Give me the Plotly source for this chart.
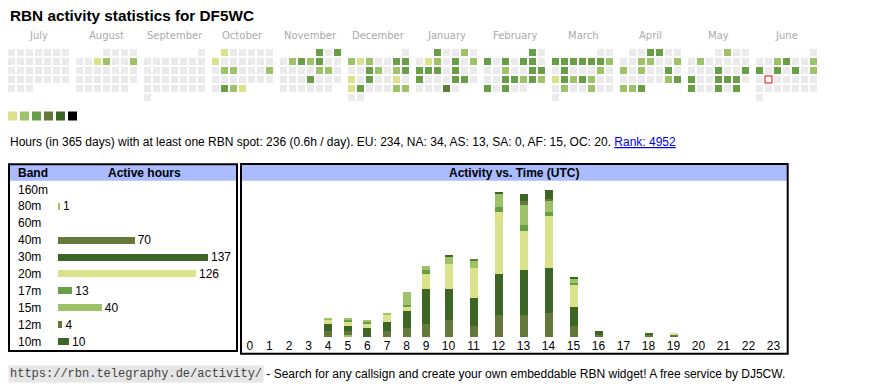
import datetime as dt
import plotly.graph_objects as go

# ---------------- data ----------------
title_text = "RBN activity statistics for DF5WC"
month_names = ["July", "August", "September", "October", "November", "December",
               "January", "February", "March", "April", "May", "June"]
first_day = "2024-07-01"
n_days = 365
today = "2025-06-17"

active_dates = [
    "2024-08-07", "2024-08-08", "2024-08-11",
    "2024-10-01", "2024-10-07", "2024-10-15", "2024-10-16", "2024-10-20", "2024-10-29", "2024-10-30", "2024-10-31",
    "2024-11-01", "2024-11-03", "2024-11-05", "2024-11-06", "2024-11-07", "2024-11-08", "2024-11-15", "2024-11-16", "2024-11-21",
    "2024-12-02", "2024-12-03", "2024-12-04", "2024-12-07", "2024-12-08", "2024-12-11", "2024-12-12", "2024-12-14", "2024-12-15",
    "2024-12-16", "2024-12-18", "2024-12-21", "2024-12-23", "2024-12-24", "2024-12-28", "2024-12-29",
    "2025-01-01", "2025-01-04", "2025-01-07", "2025-01-08", "2025-01-10", "2025-01-12", "2025-01-13", "2025-01-14", "2025-01-15",
    "2025-01-17", "2025-01-20", "2025-01-24", "2025-01-25", "2025-01-30",
    "2025-02-01", "2025-02-03", "2025-02-05", "2025-02-07", "2025-02-08", "2025-02-12", "2025-02-15", "2025-02-16", "2025-02-19",
    "2025-02-20", "2025-02-21", "2025-02-22", "2025-02-23", "2025-02-24", "2025-02-26",
    "2025-03-03", "2025-03-04", "2025-03-05", "2025-03-06", "2025-03-07", "2025-03-08", "2025-03-09", "2025-03-11", "2025-03-15",
    "2025-03-17", "2025-03-18", "2025-03-19", "2025-03-20", "2025-03-21", "2025-03-25", "2025-03-28",
    "2025-04-03", "2025-04-04", "2025-04-09", "2025-04-10", "2025-04-13", "2025-04-14", "2025-04-16", "2025-04-19", "2025-04-26",
    "2025-04-27", "2025-04-28", "2025-04-29", "2025-04-30",
    "2025-05-02", "2025-05-06", "2025-05-15", "2025-05-18", "2025-05-19", "2025-05-22", "2025-05-23", "2025-05-24", "2025-05-26",
    "2025-05-29", "2025-05-31",
    "2025-06-04", "2025-06-05", "2025-06-08", "2025-06-09", "2025-06-11", "2025-06-13", "2025-06-15",
]
active_levels = [
    1, 2, 2,
    1, 1, 2, 2, 2, 3, 2, 1,
    3, 3, 2, 3, 2, 3, 2, 2, 3,
    2, 1, 2, 3, 3, 3, 2, 2, 3,
    1, 3, 1, 1, 3, 2, 2,
    3, 2, 1, 2, 3, 2, 3, 3, 3,
    3, 3, 3, 3, 4,
    3, 3, 3, 3, 3, 2, 3, 3, 3,
    3, 2, 3, 2, 3, 3,
    3, 3, 3, 3, 3, 3, 2, 3, 2,
    1, 3, 2, 3, 2, 2, 2,
    3, 3, 2, 2, 2, 2, 2, 3, 2,
    3, 2, 2, 3,
    2, 2, 3, 3, 3, 3, 3, 3, 3,
    3, 3,
    2, 3, 2, 3, 3, 3, 2,
]
level_colors = ["#ebebeb", "#dae38b", "#9ec268", "#689f46", "#64783a", "#3c6526", "#000000"]
legend_levels = [1, 2, 3, 4, 5, 6]

stats_text = ("Hours (in 365 days) with at least one RBN spot: 236 (0.6h / day). "
              "EU: 234, NA: 34, AS: 13, SA: 0, AF: 15, OC: 20.")
rank_text = "Rank: 4952"
footer_url = "https://rbn.telegraphy.de/activity/"
footer_text = " - Search for any callsign and create your own embeddable RBN widget! A free service by DJ5CW."

bands = ["160m", "80m", "60m", "40m", "30m", "20m", "17m", "15m", "12m", "10m"]
band_hours = [0, 1, 0, 70, 137, 126, 13, 40, 4, 10]
band_colors = ["#dae38b", "#9ec268", "#689f46", "#64783a", "#3c6526",
               "#dae38b", "#689f46", "#9ec268", "#64783a", "#3c6526"]

hour_labels = ["0", "1", "2", "3", "4", "5", "6", "7", "8", "9", "10", "11",
               "12", "13", "14", "15", "16", "17", "18", "19", "20", "21", "22", "23"]
act_160m = [0, 0, 0, 0, 0, 0, 0, 0, 0, 0, 0, 0, 0, 0, 0, 0, 0, 0, 0, 0, 0, 0, 0, 0]
act_80m = [0, 0, 0, 0, 0, 1, 0, 0, 0, 0, 0, 0, 0, 0, 0, 0, 0, 0, 0, 0, 0, 0, 0, 0]
act_60m = [0, 0, 0, 0, 0, 0, 0, 0, 0, 0, 0, 0, 0, 0, 0, 0, 0, 0, 0, 0, 0, 0, 0, 0]
act_40m = [0, 0, 0, 0, 3, 2, 0, 3, 4, 6, 8, 5, 10, 10, 11, 5, 1, 0, 1, 1, 0, 0, 0, 0]
act_30m = [0, 0, 0, 0, 3, 2, 4, 4, 8, 16, 14, 13, 19, 21, 21, 9, 2, 0, 1, 0, 0, 0, 0, 0]
act_20m = [0, 0, 0, 0, 2, 2, 2, 3, 2, 7, 12, 14, 29, 18, 24, 10, 0, 0, 0, 1, 0, 0, 0, 0]
act_17m = [0, 0, 0, 0, 0, 1, 1, 0, 1, 2, 0, 0, 2, 3, 2, 1, 0, 0, 0, 0, 0, 0, 0, 0]
act_15m = [0, 0, 0, 0, 1, 1, 1, 1, 6, 2, 3, 3, 6, 9, 5, 2, 0, 0, 0, 0, 0, 0, 0, 0]
act_12m = [0, 0, 0, 0, 0, 0, 0, 0, 0, 0, 0, 1, 0, 2, 1, 0, 0, 0, 0, 0, 0, 0, 0, 0]
act_10m = [0, 0, 0, 0, 0, 0, 0, 0, 0, 0, 1, 0, 1, 3, 4, 1, 0, 0, 0, 0, 0, 0, 0, 0]
activity = [act_160m, act_80m, act_60m, act_40m, act_30m, act_20m, act_17m, act_15m, act_12m, act_10m]

# ---------------- style / layout constants ----------------
W, H = 870, 390
FONT = "Arial, Liberation Sans, sans-serif"
CAL_FONT = "DejaVu Sans, Verdana, sans-serif"
MONO = "Liberation Mono, Courier New, monospace"
CAL_X0, CAL_Y0, CELL, CELL_SZ, BLOCK = 8, 49, 9, 7, 68
HEAD_BG = "#aabbff"

# calendar cell positions derived from the dates
d0 = dt.date.fromisoformat(first_day)
level_by_date = dict(zip(active_dates, active_levels))


def cell_pos(d):
    m = (d.year - d0.year) * 12 + d.month - d0.month
    off = d.replace(day=1).weekday()
    row = (d.day - 1 + off) // 7
    return (CAL_X0 + m * BLOCK + d.weekday() * CELL + CELL_SZ / 2,
            CAL_Y0 + row * CELL + CELL_SZ / 2)


cx, cy, cc = [], [], []
for i in range(n_days):
    d = d0 + dt.timedelta(days=i)
    x, y = cell_pos(d)
    cx.append(x)
    cy.append(y)
    cc.append(level_colors[level_by_date.get(d.isoformat(), 0)])
tx, ty = cell_pos(dt.date.fromisoformat(today))

fig = go.Figure()
fig.add_trace(go.Scatter(
    x=cx, y=cy, mode="markers", xaxis="x", yaxis="y", cliponaxis=False, hoverinfo="skip",
    marker=dict(symbol="square", size=CELL_SZ, color=cc, line=dict(width=0))))
fig.add_trace(go.Scatter(
    x=[tx], y=[ty], mode="markers", xaxis="x", yaxis="y", cliponaxis=False, hoverinfo="skip",
    marker=dict(symbol="square", size=CELL_SZ, color="white", line=dict(width=1, color="#ee0000"))))
# colour legend
fig.add_trace(go.Scatter(
    x=[CAL_X0 + 12 * k + 4.5 for k in range(len(legend_levels))], y=[116] * len(legend_levels),
    mode="markers", xaxis="x", yaxis="y", cliponaxis=False, hoverinfo="skip",
    marker=dict(symbol="square", size=9, color=[level_colors[l] for l in legend_levels], line=dict(width=0))))

# band bars
BAND_X0, BAND_X1, BAND_PX = 58, 236, 1.095
fig.add_trace(go.Bar(
    x=band_hours, y=bands, orientation="h", xaxis="x2", yaxis="y2", width=7 / 17,
    marker=dict(color=band_colors, line=dict(width=0)),
    text=[str(v) if v else "" for v in band_hours], textposition="outside",
    constraintext="none", cliponaxis=False, hoverinfo="skip",
    textfont=dict(size=12, color="black", family=FONT)))

# activity vs time: column widths derived from label lengths (like an HTML table)
col_w = [14.2 + 5.4 * len(h) for h in hour_labels]
centers, acc = [], 0.0
for w in col_w:
    centers.append(acc + w / 2)
    acc += w
ACT_X0, ACT_BASE, ACT_TOP, ACT_PX = 240, 337, 181, 2.16
for b, vals, col in zip(bands, activity, band_colors):
    fig.add_trace(go.Bar(
        x=centers, y=vals, name=b, xaxis="x3", yaxis="y3", width=8,
        marker=dict(color=col, line=dict(width=0)), hoverinfo="skip"))

shapes = [
    dict(type="rect", xref="x", yref="y", x0=9, y0=164.3, x1=237, y1=180.7,
         fillcolor=HEAD_BG, line=dict(width=0), layer="below"),
    dict(type="rect", xref="x", yref="y", x0=241, y0=164, x1=787.7, y1=180.7,
         fillcolor=HEAD_BG, line=dict(width=0), layer="below"),
    dict(type="rect", xref="x", yref="y", x0=9, y0=164.3, x1=237, y1=351,
         line=dict(width=2, color="black"), layer="above"),
    dict(type="rect", xref="x", yref="y", x0=241, y0=164, x1=787.7, y1=353.8,
         line=dict(width=2, color="black"), layer="above"),
]

ann = []
ann.append(dict(x=8, y=15.5, text="<b>" + title_text + "</b>", xanchor="left", yanchor="middle",
                font=dict(size=15.3, color="black", family=FONT)))
for m, name in enumerate(month_names):
    ann.append(dict(x=CAL_X0 + m * BLOCK + (7 * CELL - 2) / 2, y=35.5, text=name,
                    xanchor="center", yanchor="middle",
                    font=dict(size=10, color="#aaaaaa", family=CAL_FONT)))
ann.append(dict(x=8, y=141.5, xanchor="left", yanchor="middle",
                text=stats_text + ' <a href="https://rbn.telegraphy.de/activity/DF5WC" '
                     'style="color:#0000ee"><u>' + rank_text + "</u></a>",
                font=dict(size=12, color="black", family=FONT)))
ann.append(dict(x=16, y=172.8, text="<b>Band</b>", xanchor="left", yanchor="middle",
                font=dict(size=12, color="black", family=FONT)))
ann.append(dict(x=144.5, y=172.8, text="<b>Active hours</b>", xanchor="center", yanchor="middle",
                font=dict(size=12, color="black", family=FONT)))
ann.append(dict(x=513.5, y=172.8, text="<b>Activity vs. Time (UTC)</b>", xanchor="center", yanchor="middle",
                font=dict(size=12, color="black", family=FONT)))
for b in bands:
    ann.append(dict(x=16, y=b, xref="x", yref="y2", text=b, xanchor="left", yanchor="middle",
                    font=dict(size=12, color="black", family=FONT)))
ann.append(dict(x=8, y=374, text=footer_url, xanchor="left", yanchor="middle", bgcolor="#e6e6e6",
                borderpad=1, font=dict(size=12, color="#444444", family=MONO)))
ann.append(dict(x=261, y=374, text=footer_text, xanchor="left", yanchor="middle",
                font=dict(size=12, color="black", family=FONT)))
for a in ann:
    a.setdefault("xref", "x")
    a.setdefault("yref", "y")
    a["showarrow"] = False

fig.update_layout(
    width=W, height=H, autosize=False, margin=dict(l=0, r=0, t=0, b=0),
    paper_bgcolor="white", plot_bgcolor="rgba(0,0,0,0)", barmode="stack", showlegend=False,
    xaxis=dict(domain=[0, 1], range=[0, W], visible=False, fixedrange=True),
    yaxis=dict(domain=[0, 1], range=[H, 0], visible=False, fixedrange=True),
    xaxis2=dict(domain=[BAND_X0 / W, BAND_X1 / W], range=[0, (BAND_X1 - BAND_X0) / BAND_PX],
                visible=False, anchor="y2"),
    yaxis2=dict(domain=[(H - 350.5) / H, (H - 180.5) / H], type="category",
                categoryorder="array", categoryarray=bands, autorange="reversed",
                visible=False, anchor="x2"),
    xaxis3=dict(domain=[ACT_X0 / W, (ACT_X0 + acc) / W], range=[0, acc], tickmode="array",
                tickvals=centers, ticktext=hour_labels, showgrid=False, zeroline=False,
                showline=False, ticks="", tickfont=dict(size=12, color="black", family=FONT),
                anchor="y3"),
    yaxis3=dict(domain=[(H - ACT_BASE) / H, (H - ACT_TOP) / H],
                range=[0, (ACT_BASE - ACT_TOP) / ACT_PX], visible=False, anchor="x3"),
    shapes=shapes, annotations=ann,
)
fig.write_html("out.html", config={"displayModeBar": False},
               post_script="document.body.style.margin='0';document.body.style.overflow='hidden';")
